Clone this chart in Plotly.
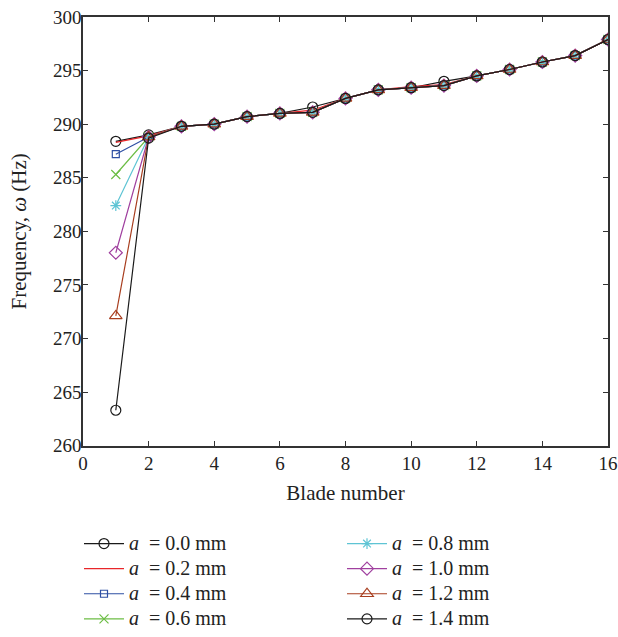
import plotly.graph_objects as go

blade = list(range(1, 17))

a_00 = [288.4, 289.0, 289.8, 290.0, 290.7, 291.0, 291.6, 292.4, 293.2, 293.4, 294.0, 294.5, 295.1, 295.8, 296.4, 297.9]
a_02 = [288.3, 288.9, 289.8, 290.0, 290.7, 291.0, 291.3, 292.4, 293.2, 293.5, 293.7, 294.5, 295.1, 295.8, 296.4, 297.9]
a_04 = [287.2, 288.8, 289.8, 290.0, 290.7, 291.0, 291.1, 292.4, 293.2, 293.4, 293.6, 294.5, 295.1, 295.8, 296.4, 297.9]
a_06 = [285.3, 288.8, 289.8, 290.0, 290.7, 291.0, 291.1, 292.4, 293.2, 293.4, 293.6, 294.5, 295.1, 295.8, 296.4, 297.9]
a_08 = [282.4, 288.8, 289.8, 290.0, 290.7, 291.0, 291.1, 292.4, 293.2, 293.4, 293.6, 294.5, 295.1, 295.8, 296.4, 297.9]
a_10 = [278.0, 288.8, 289.8, 290.0, 290.7, 291.0, 291.1, 292.4, 293.2, 293.4, 293.6, 294.5, 295.1, 295.8, 296.4, 297.9]
a_12 = [272.1, 288.8, 289.8, 290.0, 290.7, 291.0, 291.1, 292.4, 293.2, 293.4, 293.6, 294.5, 295.1, 295.8, 296.4, 297.9]
a_14 = [263.3, 288.7, 289.8, 290.0, 290.7, 291.0, 291.1, 292.4, 293.2, 293.4, 293.6, 294.5, 295.1, 295.8, 296.4, 297.9]

labels = ["0.0", "0.2", "0.4", "0.6", "0.8", "1.0", "1.2", "1.4"]
series = [a_00, a_02, a_04, a_06, a_08, a_10, a_12, a_14]
colors = ["#1a1a1a", "#e8262a", "#2e4fa3", "#6cbd45", "#5ec4d4", "#a0409f", "#a83e1f", "#1a1a1a"]
symbols = ["circle-open", None, "square-open", "x-thin-open", "asterisk-open",
           "diamond-open", "triangle-up-open", "circle-open"]
sizes = [10, 0, 7, 9, 9, 10, 11, 10]

FONT = "Liberation Serif"
NB = "\u00a0"

fig = go.Figure()
for i, (lab, ys) in enumerate(zip(labels, series)):
    kw = {}
    if symbols[i] is None:
        mode = "lines"
    else:
        mode = "lines+markers"
        kw["marker"] = dict(symbol=symbols[i], size=sizes[i], color=colors[i],
                            line=dict(width=1.2, color=colors[i]))
    fig.add_trace(go.Scatter(
        x=blade, y=ys, mode=mode,
        name=f'<span style="font-size:20px"><i>a</i>{NB}{NB}={NB}{lab}{NB}mm</span>',
        line=dict(color=colors[i], width=1.2),
        legend="legend" if i < 4 else "legend2",
        **kw))

axis_common = dict(
    showgrid=False, zeroline=False, showline=True, linecolor="#333333", linewidth=1.5,
    mirror="ticks", ticks="inside", ticklen=5, tickcolor="#333333", tickwidth=1.2,
    tickfont=dict(family=FONT, size=19, color="#222222"), automargin=False,
)

legend_common = dict(
    yanchor="bottom", xanchor="left", orientation="v",
    font=dict(family=FONT, size=17, color="#222222"),
    bgcolor="rgba(0,0,0,0)", tracegroupgap=0, itemwidth=40,
)

L, R, T, B = 79, 10, 17, 0
W, H = 618, 637
pw, ph = W - L - R, H - T - B
y_dom0 = (H - B - 447) / ph
x_dom0 = 4 / pw

fig.update_layout(
    width=W, height=H,
    margin=dict(l=L, r=R, t=T, b=B),
    paper_bgcolor="white", plot_bgcolor="white",
    font=dict(family=FONT, color="#222222"),
    xaxis=dict(range=[0, 16], tickvals=list(range(0, 17, 2)), domain=[x_dom0, 1],
               title=dict(text="Blade number", font=dict(family=FONT, size=21), standoff=12),
               **axis_common),
    yaxis=dict(range=[260, 300], tickvals=list(range(260, 301, 5)), domain=[y_dom0, 1],
               ticklabelstandoff=-4,
               title=dict(text="Frequency, <i>ω</i> (Hz)", font=dict(family=FONT, size=21), standoff=21),
               **axis_common),
    legend=dict(x=0.0, y=-0.004, **legend_common),
    legend2=dict(x=(342 - L) / pw, y=-0.004, **legend_common),
    showlegend=True,
)

fig.write_html("out.html")
